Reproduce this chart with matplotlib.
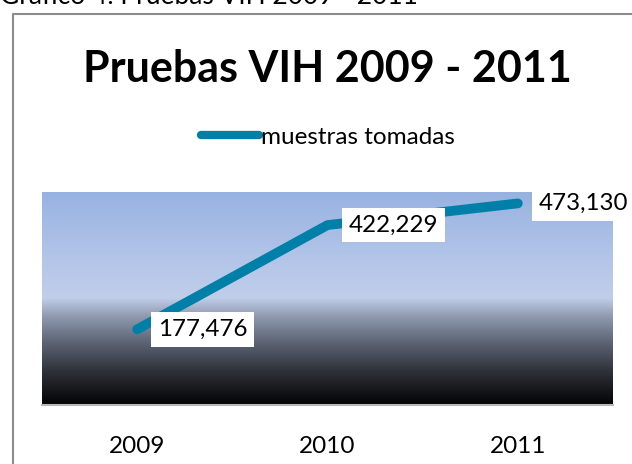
import numpy as np
import matplotlib.pyplot as plt
from matplotlib.colors import LinearSegmentedColormap
from matplotlib.lines import Line2D

plt.rcParams['font.family'] = ['Lato', 'DejaVu Sans']

# data
years = ['2009', '2010', '2011']
muestras = [177476, 422229, 473130]
serie = 'muestras tomadas'

fig = plt.figure(figsize=(6.32, 4.641), dpi=100)
fig.patch.set_facecolor('white')

# chart border: only left and top edges are visible in the screenshot
bx, by = 12.5 / 632, 1 - 14 / 464
fig.add_artist(Line2D([bx, bx, 1.0], [0.0, by, by], transform=fig.transFigure,
                      color='#8c8c8c', linewidth=1.5))

# caption at top, mostly cropped
fig.text(0.0, 1 - 4 / 464, 'Gráfico 4. Pruebas VIH 2009 - 2011',
         fontsize=19, color='black', ha='left', va='baseline')

ax = fig.add_axes([42 / 632, 59 / 464, 571 / 632, 213 / 464])
x = np.arange(len(years))

# gradient background
grad = LinearSegmentedColormap.from_list('bg', [
    (0.0, '#030303'), (0.15, '#2c2f36'), (0.3, '#5f6778'),
    (0.42, '#939db2'), (0.5, '#c1ceea'), (0.7, '#b2c4e8'), (1.0, '#97b2e1')])
ax.imshow(np.linspace(1, 0, 256).reshape(-1, 1), cmap=grad, aspect='auto',
          extent=[-0.5, 2.5, 0, 500000], zorder=0)

ax.plot(x, muestras, color='#007fa8', linewidth=7, solid_capstyle='round',
        solid_joinstyle='round', label=serie, zorder=2)

for xi, v in zip(x, muestras):
    ax.annotate(f'{v:,}', (xi, v), xytext=(15, 0), textcoords='offset points',
                ha='left', va='center', fontsize=17.4, color='black',
                bbox=dict(boxstyle='square,pad=0.28', fc='white', ec='none'),
                annotation_clip=False, zorder=3)

ax.set_xlim(-0.5, 2.5)
ax.set_ylim(0, 500000)
ax.set_xticks(x)
ax.set_xticklabels(years, fontsize=17.5)
ax.tick_params(axis='x', length=0, pad=22)
ax.set_yticks([])
for s in ['top', 'left', 'right']:
    ax.spines[s].set_visible(False)
ax.spines['bottom'].set_color('#b8b8b8')
ax.spines['bottom'].set_linewidth(1.5)

fig.text(327 / 632, 1 - 82 / 464, 'Pruebas VIH 2009 - 2011', fontsize=31,
         fontweight='bold', ha='center', va='baseline')

leg = ax.legend(loc='center', bbox_to_anchor=(328 / 632, 1 - 137 / 464),
                bbox_transform=fig.transFigure, frameon=False, fontsize=17.5,
                handlelength=2.4, handletextpad=0.1)
leg.get_lines()[0].set_linewidth(6)

fig.savefig('out.png', dpi=100)
